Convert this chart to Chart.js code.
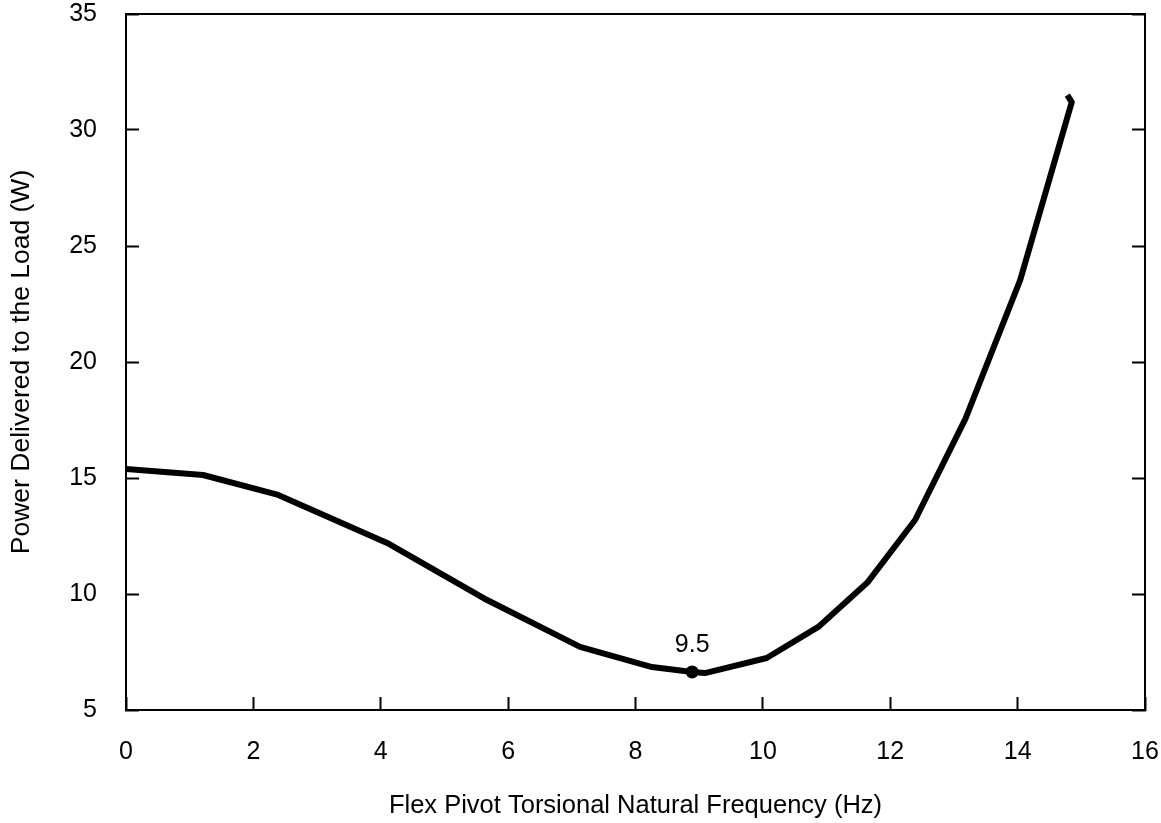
<!DOCTYPE html>
<html>
<head>
<meta charset="utf-8">
<script src="https://cdn.jsdelivr.net/npm/chart.js@4"></script>
<style>
  body { margin: 0; background: #fff; }
  canvas { display: block; }
</style>
</head>
<body>
<canvas id="powerChart" width="1161" height="823"></canvas>
<script>
// values
const freqHz = [0, 1.21, 2.39, 4.10, 5.67, 7.13, 8.26, 8.89, 9.09, 10.06, 10.87, 11.65, 12.39, 13.18, 14.04, 14.85, 14.78];
const powerW = [15.39, 15.13, 14.27, 12.2, 9.74, 7.72, 6.85, 6.64, 6.59, 7.24, 8.58, 10.52, 13.19, 17.55, 23.53, 31.2, 31.5];

const markerHz = [8.89];
const markerW = [6.64];
const markerLabel = '9.5';

const xTicks = [0, 2, 4, 6, 8, 10, 12, 14, 16];
const yTicks = [5, 10, 15, 20, 25, 30, 35];

const FONT = "'Liberation Sans', Arial, Helvetica, sans-serif";

// top edge of the box + the "9.5" note
const extras = {
  id: 'extras',
  afterDraw(chart) {
    const { ctx, chartArea, scales } = chart;
    ctx.save();
    ctx.strokeStyle = '#000';
    ctx.lineWidth = 2;
    ctx.beginPath();
    ctx.moveTo(chartArea.left, chartArea.top);
    ctx.lineTo(chartArea.right, chartArea.top);
    ctx.stroke();

    ctx.fillStyle = '#000';
    ctx.font = '25px ' + FONT;
    ctx.textAlign = 'center';
    ctx.textBaseline = 'middle';
    ctx.fillText(markerLabel, scales.x.getPixelForValue(markerHz[0]), scales.y.getPixelForValue(markerW[0]) - 27);
    ctx.restore();
  }
};

// keep the tick padding from pushing the plot box inwards
function fixSize(w, h) {
  return (s) => {
    if (w !== null) s.width = w;
    if (h !== null) s.height = h;
    s.paddingLeft = 0; s.paddingRight = 0;
    s.paddingTop = 0; s.paddingBottom = 0;
  };
}

const ctx = document.getElementById('powerChart').getContext('2d');

new Chart(ctx, {
  type: 'scatter',
  data: {
    datasets: [
      {
        data: freqHz.map((x, i) => ({ x: x, y: powerW[i] })),
        showLine: true,
        borderColor: '#000',
        borderWidth: 6,
        borderJoinStyle: 'round',
        tension: 0,
        pointRadius: 0
      },
      {
        data: markerHz.map((x, i) => ({ x: x, y: markerW[i] })),
        pointRadius: 6.5,
        pointBackgroundColor: '#000',
        pointBorderWidth: 0
      }
    ]
  },
  options: {
    responsive: false,
    animation: false,
    layout: { padding: { top: 14, left: 0, right: 0, bottom: 0 } },
    plugins: { legend: { display: false }, tooltip: { enabled: false } },
    scales: {
      x: {
        type: 'linear',
        min: 0,
        max: 16,
        afterBuildTicks: (s) => { s.ticks = xTicks.map(v => ({ value: v })); },
        afterFit: fixSize(null, 113),
        grid: { drawOnChartArea: false, tickLength: -13, tickWidth: 2, color: '#000' },
        border: { color: '#000', width: 2 },
        ticks: { color: '#000', padding: 40, font: { family: FONT, size: 25 }, maxRotation: 0 },
        title: {
          display: true,
          text: 'Flex Pivot Torsional Natural Frequency (Hz)',
          color: '#000',
          font: { family: FONT, size: 25.5 },
          padding: { top: 0, bottom: 2 }
        }
      },
      y: {
        type: 'linear',
        position: 'left',
        min: 5,
        max: 35,
        afterBuildTicks: (s) => { s.ticks = yTicks.map(v => ({ value: v })); },
        afterFit: fixSize(126, null),
        grid: { drawOnChartArea: false, tickLength: -13, tickWidth: 2, color: '#000' },
        border: { color: '#000', width: 2 },
        ticks: { color: '#000', padding: 42, font: { family: FONT, size: 25 } },
        title: {
          display: true,
          text: 'Power Delivered to the Load (W)',
          color: '#000',
          font: { family: FONT, size: 26.5 },
          padding: { top: 6, bottom: 0 }
        }
      },
      yRight: {
        type: 'linear',
        position: 'right',
        min: 5,
        max: 35,
        afterBuildTicks: (s) => { s.ticks = yTicks.map(v => ({ value: v })); },
        afterFit: fixSize(16, null),
        grid: { drawOnChartArea: false, tickLength: -13, tickWidth: 2, color: '#000' },
        border: { color: '#000', width: 2 },
        ticks: { display: false }
      }
    }
  },
  plugins: [extras]
});
</script>
</body>
</html>
